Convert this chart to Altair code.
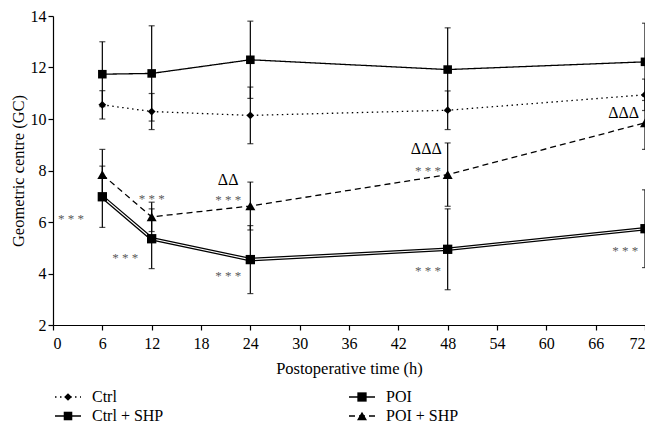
import altair as alt
import pandas as pd

# ---- data ----
times = [6, 12, 24, 48, 72]
series_names = ["Ctrl", "Ctrl + SHP", "POI", "POI + SHP"]
ctrl_mean = [10.55, 10.29, 10.14, 10.34, 10.94]
ctrl_sd = [0.55, 0.70, 1.10, 0.75, 0.61]
ctrlshp_mean = [11.74, 11.77, 12.30, 11.92, 12.22]
ctrlshp_sd = [1.26, 1.85, 1.50, 1.62, 1.50]
poi_mean = [6.98, 5.35, 4.54, 4.94, 5.74]
poi_sd = [1.19, 1.16, 1.32, 1.57, 1.51]
poishp_mean = [7.84, 6.20, 6.62, 7.84, 9.85]
poishp_sd = [0.98, 0.57, 0.93, 1.23, 1.03]

ann_text = ["* * *", "* * *", "* * *", "ΔΔ", "* * *", "ΔΔΔ", "ΔΔΔ", "* * *", "* * *", "* * *", "* * *"]
ann_x = [2.2, 12.0, 21.3, 21.3, 45.6, 45.4, 69.4, 8.8, 21.3, 45.6, 69.6]
ann_y = [6.2, 6.98, 6.92, 7.65, 8.05, 8.82, 10.25, 4.67, 4.0, 4.19, 4.97]

x_ticks = list(range(0, 73, 6))
y_ticks = [2, 4, 6, 8, 10, 12, 14]

# ---- tables ----
means = [ctrl_mean, ctrlshp_mean, poi_mean, poishp_mean]
sds = [ctrl_sd, ctrlshp_sd, poi_sd, poishp_sd]
rows = []
for name, m, s in zip(series_names, means, sds):
    for t, mv, sv in zip(times, m, s):
        rows.append({"series": name, "time": t, "mean": mv, "lo": mv - sv, "hi": mv + sv})
df = pd.DataFrame(rows)

ann = pd.DataFrame({"text": ann_text, "x": ann_x, "y": ann_y})
ann["kind"] = ["star" if t.startswith("*") else "delta" for t in ann_text]

leg = pd.DataFrame({"series": series_names,
                    "col": [0, 0, 1, 1],
                    "row": [0, 1, 0, 1]})

FONT = "Liberation Serif"
W, H = 592, 309

dash_scale = alt.Scale(domain=series_names, range=[[1.5, 3.5], [1, 0], [1, 0], [6, 4]])
shape_scale = alt.Scale(domain=series_names, range=["diamond", "square", "square", "triangle-up"])
size_scale = alt.Scale(domain=series_names, range=[60, 100, 100, 80])

xs = alt.Scale(domain=[0, 72], nice=False, zero=False)
ys = alt.Scale(domain=[2, 14], nice=False, zero=False)

X = alt.X("time:Q", scale=xs,
          axis=alt.Axis(values=x_ticks, title="Postoperative time (h)", grid=False,
                        tickSize=5, labelPadding=5, titlePadding=9, format="d",
                        labelFlush=True))
Y = alt.Y("mean:Q", scale=ys,
          axis=alt.Axis(values=y_ticks, title="Geometric centre (GC)", grid=False,
                        tickSize=5, labelPadding=2, titlePadding=4, format="d"))

base = alt.Chart(df)

bars = base.mark_rule(color="black", strokeWidth=1.2).encode(
    x=X, y=alt.Y("lo:Q", scale=ys), y2="hi:Q")
cap_lo = base.mark_tick(color="black", orient="horizontal", size=6, thickness=1.2).encode(
    x="time:Q", y=alt.Y("lo:Q", scale=ys))
cap_hi = base.mark_tick(color="black", orient="horizontal", size=6, thickness=1.2).encode(
    x="time:Q", y=alt.Y("hi:Q", scale=ys))

lines = base.transform_filter(alt.datum.series != "POI").mark_line(
    color="black", strokeWidth=1.3).encode(
    x=X, y=Y,
    strokeDash=alt.StrokeDash("series:N", scale=dash_scale, legend=None),
    detail="series:N")
poi_outer = base.transform_filter(alt.datum.series == "POI").mark_line(
    color="black", strokeWidth=3.6).encode(x=X, y=Y)
poi_inner = base.transform_filter(alt.datum.series == "POI").mark_line(
    color="white", strokeWidth=1.1).encode(x=X, y=Y)

points = base.mark_point(filled=True, color="black", opacity=1).encode(
    x=X, y=Y,
    shape=alt.Shape("series:N", scale=shape_scale, legend=None),
    size=alt.Size("series:N", scale=size_scale, legend=None))

stars = alt.Chart(ann).transform_filter(alt.datum.kind == "star").mark_text(
    font=FONT, fontSize=13, color="#5a5a5a", align="center", baseline="middle", dy=2).encode(
    x=alt.X("x:Q", scale=xs), y=alt.Y("y:Q", scale=ys), text="text:N")
deltas = alt.Chart(ann).transform_filter(alt.datum.kind == "delta").mark_text(
    font=FONT, fontSize=16, color="black", align="center", baseline="middle").encode(
    x=alt.X("x:Q", scale=xs), y=alt.Y("y:Q", scale=ys), text="text:N")

# ---- legend (layout in pixels) ----
lbase = alt.Chart(leg).transform_calculate(
    sx="15 + datum.col * 294",
    ty="381 + datum.row * 19",
    x1="datum.sx - 13",
    x2="datum.sx + 13",
    tx="datum.sx + 24",
)
leg_lines = lbase.mark_rule(color="black", strokeWidth=1.3).encode(
    x=alt.X("x1:Q", scale=None), x2="x2:Q", y=alt.Y("ty:Q", scale=None),
    strokeDash=alt.StrokeDash("series:N", scale=dash_scale, legend=None))
leg_pts = lbase.mark_point(filled=True, color="black", opacity=1).encode(
    x=alt.X("sx:Q", scale=None), y=alt.Y("ty:Q", scale=None),
    shape=alt.Shape("series:N", scale=shape_scale, legend=None),
    size=alt.Size("series:N", scale=size_scale, legend=None))
leg_txt = lbase.mark_text(font=FONT, fontSize=16, color="black", align="left",
                          baseline="middle").encode(
    x=alt.X("tx:Q", scale=None), y=alt.Y("ty:Q", scale=None), text="series:N")

chart = alt.layer(
    bars, cap_lo, cap_hi, lines, poi_outer, poi_inner, points, stars, deltas,
    leg_lines, leg_pts, leg_txt
).properties(
    width=W, height=H,
    autosize=alt.AutoSizeParams(type="none"),
    padding={"left": 45, "top": 8, "right": 0, "bottom": 98},
).configure_view(stroke=None).configure_axis(
    labelFont=FONT, titleFont=FONT, labelFontSize=16, titleFontSize=16.5,
    titleFontWeight="normal", labelColor="black", titleColor="black",
    domainColor="black", tickColor="black", domainWidth=1.2, tickWidth=1.2,
)

chart.save("out.html", embed_options={"renderer": "svg", "actions": False})
